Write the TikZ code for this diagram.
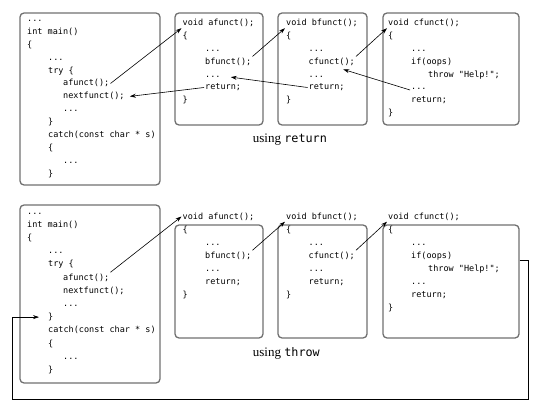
\documentclass[tikz,border=0pt]{standalone}
\usepackage{fontspec}
\usepackage{tikz}
\usetikzlibrary{arrows.meta}

\setmainfont{Liberation Serif}
\newfontfamily\codefont{DejaVu Sans Mono}
\definecolor{boxgray}{RGB}{112,112,112}

\tikzset{
    codebox/.style={rectangle, draw=boxgray, line width=1.3pt, rounded corners=4pt},
    codeline/.style={anchor=base west, inner sep=1pt, text height=6.5pt, text depth=1.5pt,
        font=\codefont\fontsize{8.5}{10}\selectfont},
    caption/.style={anchor=base west, inner sep=0pt, font=\fontsize{13}{15}\selectfont},
    link/.style={-{Stealth[length=6pt, width=4pt]}, line width=0.6pt}
}

% code of the four functions: indent (pt) / text
\newcommand\mainlines{0/{...}, 0/{int main()}, 0/{\{}, 21/{...}, 21/{try \{}, 36/{afunct();},
    36/{nextfunct();}, 36/{...}, 21/{\}}, 21/{catch(const char * s)}, 21/{\{}, 36/{...}, 21/{\}}}
\newcommand\alines{0/{void afunct();}, 0/{\{}, 22.5/{...}, 22.5/{bfunct();}, 22.5/{...},
    22.5/{return;}, 0/{\}}}
\newcommand\blines{0/{void bfunct();}, 0/{\{}, 22.5/{...}, 22.5/{cfunct();}, 22.5/{...},
    22.5/{return;}, 0/{\}}}
\newcommand\clines{0/{void cfunct();}, 0/{\{}, 23/{...}, 23/{if(oops)}, 40/{throw "Help!";},
    23/{...}, 23/{return;}, 0/{\}}}

\begin{document}
\begin{tikzpicture}[x=1pt, y=-1pt]
    \useasboundingbox (0,0) rectangle (541,409);

    % Boxes, using return
    \node[codebox, minimum width=140pt, minimum height=172pt] (mainRbox) at (90,99) {};
    \node[codebox, minimum width=88pt, minimum height=112pt] (afRbox) at (219,69) {};
    \node[codebox, minimum width=89pt, minimum height=112pt] (bfRbox) at (322.5,69) {};
    \node[codebox, minimum width=136pt, minimum height=112pt] (cfRbox) at (451,69) {};

    % Code, using return
    \foreach \dx/\txt [count=\i from 0] in \mainlines
        \node[codeline] (mainR-\i) at ({26+\dx},{21.5+12.9*\i}) {\txt};
    \foreach \dx/\txt [count=\i from 0] in \alines
        \node[codeline] (afR-\i) at ({181.5+\dx},{25.5+12.9*\i}) {\txt};
    \foreach \dx/\txt [count=\i from 0] in \blines
        \node[codeline] (bfR-\i) at ({285+\dx},{25.5+12.9*\i}) {\txt};
    \foreach \dx/\txt [count=\i from 0] in \clines
        \node[codeline] (cfR-\i) at ({387+\dx},{25.5+12.9*\i}) {\txt};

    \node[caption] (capR) at (252.7,142.7) {using {\codefont\fontsize{11.8}{14}\selectfont return}};

    % Calls and returns
    \draw[link] (mainR-5.east) -- (afR-0.south west);
    \draw[link] (afR-3.north east) -- (bfR-0.south west);
    \draw[link] (bfR-3.north east) -- (cfR-0.south west);
    \draw[link] (cfR-5.base west) -- ([xshift=18pt]bfR-4.north east);
    \draw[link] (bfR-5.west) -- ([xshift=9pt]afR-4.base east);
    \draw[link] (afR-5.west) -- ([xshift=4pt]mainR-6.east);

    % Boxes, using throw
    \node[codebox, minimum width=140pt, minimum height=178pt] (mainTbox) at (90,294) {};
    \node[codebox, minimum width=88pt, minimum height=113pt] (afTbox) at (219,281.5) {};
    \node[codebox, minimum width=89pt, minimum height=113pt] (bfTbox) at (322.5,281.5) {};
    \node[codebox, minimum width=136pt, minimum height=113pt] (cfTbox) at (451,281.5) {};

    % Code, using throw
    \foreach \dx/\txt [count=\i from 0] in \mainlines
        \node[codeline] (mainT-\i) at ({26+\dx},{214+13.2*\i}) {\txt};
    \foreach \dx/\txt [count=\i from 0] in \alines
        \node[codeline] (afT-\i) at ({181.5+\dx},{219+13*\i}) {\txt};
    \foreach \dx/\txt [count=\i from 0] in \blines
        \node[codeline] (bfT-\i) at ({285+\dx},{219+13*\i}) {\txt};
    \foreach \dx/\txt [count=\i from 0] in \clines
        \node[codeline] (cfT-\i) at ({387+\dx},{219+13*\i}) {\txt};

    \node[caption] (capT) at (252.7,356.7) {using {\codefont\fontsize{11.8}{14}\selectfont throw}};

    % Calls and the throw back to the catch
    \draw[link] (mainT-5.north east) -- (afT-0.west);
    \draw[link] (afT-3.north east) -- (bfT-0.south west);
    \draw[link] (bfT-3.north east) -- (cfT-0.south west);
    \coordinate (throwcorner) at (528,399);
    \draw[link] (cfTbox.east |- cfT-3.south) -| (throwcorner) -| ([xshift=-35pt]mainT-8.west)
        -- ([xshift=-8pt]mainT-8.west);
\end{tikzpicture}
\end{document}
